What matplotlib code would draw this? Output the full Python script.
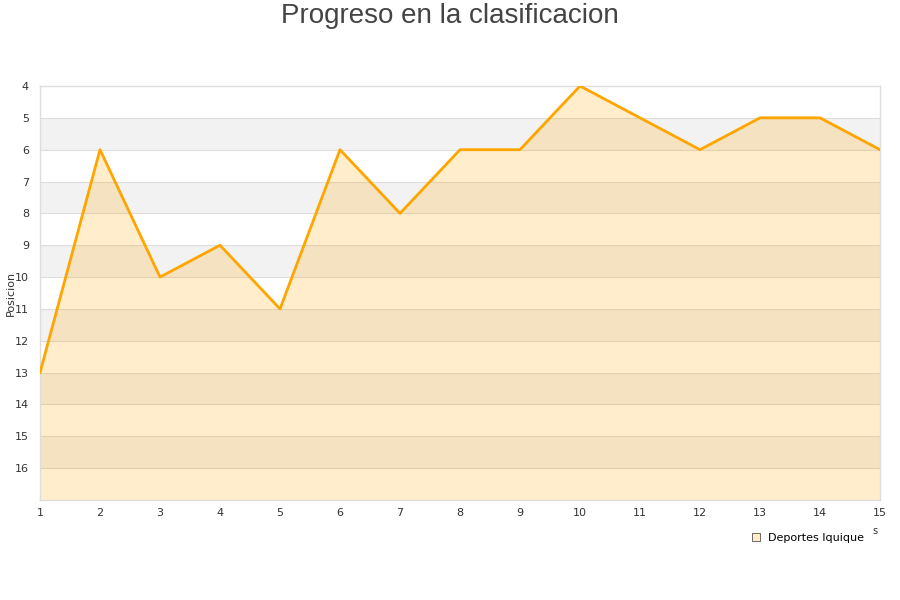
import matplotlib
matplotlib.use("Agg")
import matplotlib.pyplot as plt
from matplotlib.lines import Line2D

jornadas = list(range(1, 16))
posicion = [13, 6, 10, 9, 11, 6, 8, 6, 6, 4, 5, 6, 5, 5, 6]
team = "Deportes Iquique"
title = "Progreso en la clasificacion"
y_ticks = list(range(4, 17))

fig = plt.figure(figsize=(9, 6), dpi=100)
ax = fig.add_axes([40/900, 100/600, 840/900, 414/600])

ax.set_xlim(1, 15)
ax.set_ylim(17, 4)

# alternating bands
for y0 in range(5, 17, 2):
    ax.axhspan(y0, y0 + 1, color="#f2f2f2", zorder=0, lw=0)
for y in range(5, 17):
    ax.axhline(y, color="#dddddd", lw=0.8, zorder=1)

ax.fill_between(jornadas, posicion, 17, color="#ffa500", alpha=0.2, lw=0, zorder=2)
ax.plot(jornadas, posicion, color="#ffa500", lw=2, zorder=3)

ax.set_xticks(jornadas)
ax.set_yticks(y_ticks)
ax.tick_params(axis="both", length=0, labelsize=8, colors="#333333")
ax.tick_params(axis="x", pad=6)
ax.tick_params(axis="y", pad=8)
for s in ax.spines.values():
    s.set_color("#dddddd")
    s.set_linewidth(1)

fig.text(11/900, 1 - 293/600, "Posicion", fontsize=8, color="#333333",
         rotation=90, ha="center", va="center")

fig.text(0.5, 1 - 16/600, title, fontsize=20, color="#444444",
         family=["Liberation Sans", "DejaVu Sans"], ha="center", va="center")

fig.text(875/900, 1 - 531/600, "s", fontsize=7, color="#333333", ha="center", va="center")

handle = Line2D([], [], marker="s", linestyle="none", markersize=6,
                markerfacecolor="#ffecc8", markeredgecolor="#555555", markeredgewidth=0.6)
fig.legend([handle], [team], loc="center left", bbox_to_anchor=(750/900, 1 - 538/600),
           frameon=False, fontsize=8, handletextpad=0.6, borderaxespad=0, borderpad=0,
           handlelength=1)

fig.savefig("out.png", dpi=100)
